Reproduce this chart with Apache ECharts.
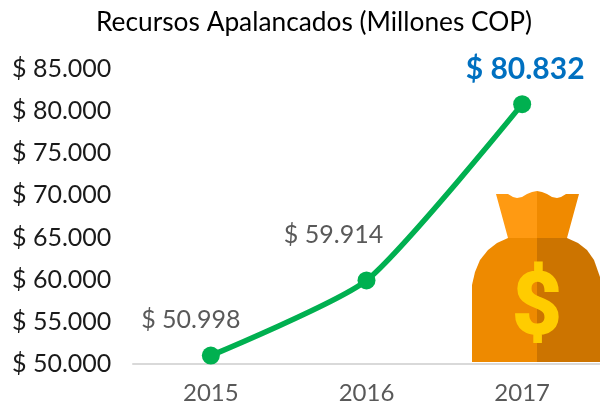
<!DOCTYPE html>
<html>
<head>
<meta charset="utf-8">
<style>html,body{margin:0;padding:0;background:#fff}#chart{width:600px;height:406px}</style>
<script src="https://cdn.jsdelivr.net/npm/echarts@6/dist/echarts.min.js"></script>
</head>
<body>
<div id="chart"></div>
<script>
const years = ['2015', '2016', '2017'];
const recursos = [50998, 59914, 80832];
const titleText = 'Recursos Apalancados (Millones COP)';

const font = 'Lato';
const fmt = v => '$ ' + String(v).replace(/\B(?=(\d{3})+$)/g, '.');

// label offsets per point, same order as years
const labelStyles = [
  { offset: [-20, -9], color: '#595959', fontSize: 25 },
  { offset: [-33, -19], color: '#595959', fontSize: 25 },
  { offset: [3, -6], color: '#0070C0', fontSize: 30, fontWeight: 'bold' }
];

const myChart = echarts.init(document.getElementById('chart'), null, { renderer: 'canvas' });
myChart.setOption({
  animation: false,
  title: {
    text: titleText,
    left: 91,
    top: 5,
    textStyle: { fontFamily: font, fontSize: 26.3, fontWeight: 'normal', color: '#000' }
  },
  grid: { left: 133, right: -1, top: 69, bottom: 42 },
  xAxis: {
    type: 'category',
    data: years,
    axisLine: { lineStyle: { color: '#D9D9D9', width: 2 } },
    axisTick: { show: false },
    axisLabel: { color: '#595959', fontFamily: font, fontSize: 24, margin: 17 }
  },
  yAxis: {
    type: 'value',
    min: 50000,
    max: 85000,
    interval: 5000,
    axisLine: { show: false },
    axisTick: { show: false },
    splitLine: { show: false },
    axisLabel: {
      color: '#1a1a1a',
      fontFamily: font,
      fontSize: 25,
      align: 'left',
      margin: 121,
      formatter: fmt
    }
  },
  series: [{
    type: 'line',
    smooth: 0.2,
    data: recursos.map((v, i) => ({
      value: v,
      label: { show: true, position: 'top', fontFamily: font, formatter: p => fmt(p.value), ...labelStyles[i] }
    })),
    symbol: 'circle',
    symbolSize: 18,
    itemStyle: { color: '#00B050' },
    lineStyle: { color: '#00B050', width: 5.5 }
  }],
  // money bag decoration
  graphic: [
    { type: 'polygon', z: 10, shape: { points: [[496,194],[508,194],[513,197],[517,198],[522,197],[527,194],[532,192],[537,191],[537,238],[508,238]] }, style: { fill: '#FF9A12' } },
    { type: 'polygon', z: 10, shape: { points: [[537,191],[542,192],[547,194],[552,197],[557,198],[561,197],[566,194],[579,194],[567,238],[537,238]] }, style: { fill: '#F08A00' } },
    { type: 'polygon', z: 10, shape: { points: [[508,238],[537,238],[537,362],[472,362],[472,295],[472,285],[475,272],[480,260],[488,250],[497,243]] }, style: { fill: '#EE8A00' } },
    { type: 'polygon', z: 10, shape: { points: [[537,238],[567,238],[578,243],[587,250],[594,260],[600,277],[600,362],[537,362]] }, style: { fill: '#CC7400' } },
    { type: 'text', z: 11, x: 537, y: 311, style: { text: '$', fill: '#FFCC00', stroke: '#FFCC00', lineWidth: 2, fontFamily: 'Roboto', fontSize: 86, fontWeight: 'bold', align: 'center', verticalAlign: 'middle' } }
  ]
});
</script>
</body>
</html>
